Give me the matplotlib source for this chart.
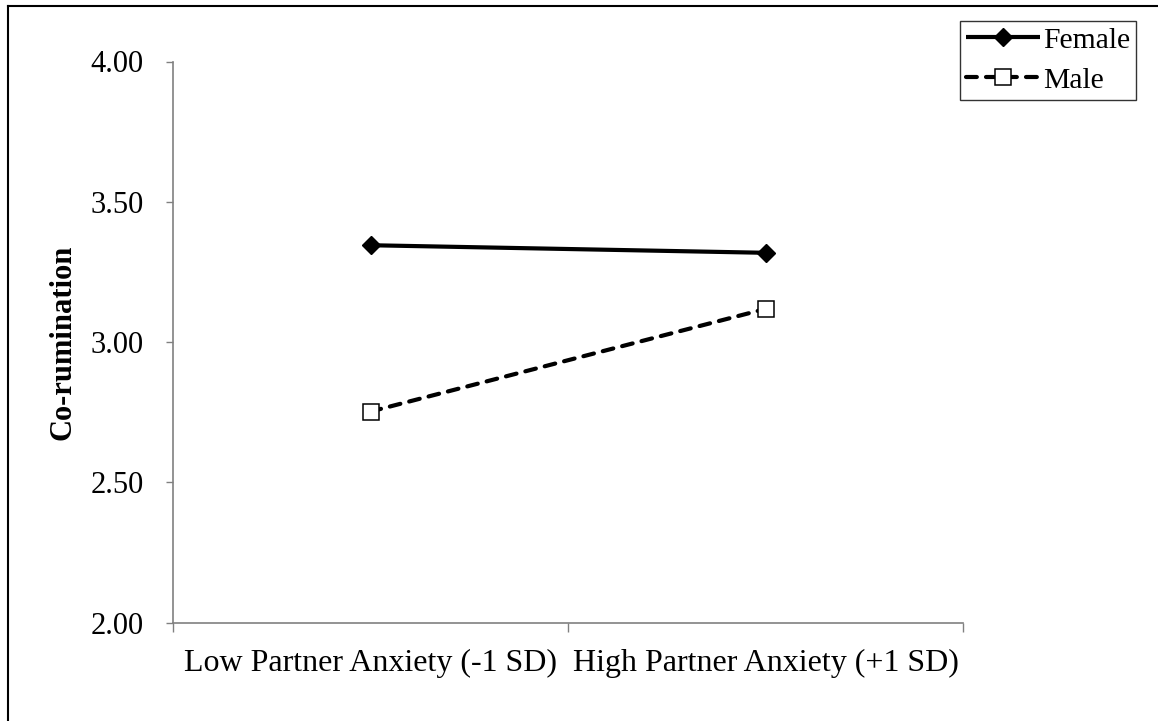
import matplotlib
matplotlib.use("Agg")
import matplotlib.pyplot as plt
from matplotlib.lines import Line2D

categories = ["Low Partner Anxiety (-1 SD)", "High Partner Anxiety (+1 SD)"]
female = [3.345, 3.318]
male = [2.752, 3.118]
yticks = [2.00, 2.50, 3.00, 3.50, 4.00]
ytick_labels = ["2.00", "2.50", "3.00", "3.50", "4.00"]

plt.rcParams['font.family'] = ['Liberation Serif', 'DejaVu Serif']

W, H = 1158, 721
fig = plt.figure(figsize=(W / 100, H / 100), dpi=100)
ax = fig.add_axes([173 / W, (H - 622.5) / H, (963 - 173) / W, (622.5 - 61.5) / H])

xpos = [0.5, 1.5]
ax.plot(xpos, female, color='black', lw=3, marker='D', markersize=9,
        markerfacecolor='black', markeredgecolor='black', label='Female',
        solid_capstyle='butt', zorder=3)
ax.plot(xpos, male, color='black', lw=3, linestyle=(0, (2.6, 2.2)),
        dash_capstyle='round', marker='s', markersize=11.3,
        markerfacecolor='white', markeredgecolor='black', markeredgewidth=1.1,
        label='Male', zorder=3)

ax.set_xlim(0, 2)
ax.set_ylim(2, 4)
ax.set_yticks(yticks)
ax.set_yticklabels(ytick_labels)
ax.set_xticks([0, 1, 2])
ax.set_xticklabels([])
ax.set_xticks(xpos, minor=True)
ax.set_xticklabels(categories, minor=True)
ax.tick_params(axis='x', which='minor', length=0, pad=19, labelsize=23)
ax.tick_params(axis='x', which='major', length=6.5, width=1, color='#808080', direction='out')
ax.tick_params(axis='y', length=5, width=1, color='#808080', direction='out', labelsize=22, pad=16)

for s in ['top', 'right']:
    ax.spines[s].set_visible(False)
for s in ['left', 'bottom']:
    ax.spines[s].set_color('#808080')
    ax.spines[s].set_linewidth(1.2)

ax.set_ylabel("Co-rumination", fontsize=22, fontweight='bold')
ax.yaxis.label.set_va('center')
ax.yaxis.set_label_coords((63 - 173) / (963 - 173), 0.5)

leg = ax.legend(loc='upper left', bbox_to_anchor=(960 / W, 1 - 21 / H),
                bbox_transform=fig.transFigure, fontsize=21.3, frameon=True,
                fancybox=False, edgecolor='black', handlelength=2.5,
                handletextpad=0.1, borderpad=0.2, labelspacing=0.45,
                borderaxespad=0)
leg.get_frame().set_linewidth(1.0)

# outer chart frame (left and top edges visible)
fig.add_artist(Line2D([8 / W, 8 / W], [0, 1 - 6 / H], transform=fig.transFigure,
                      color='black', lw=1.5))
fig.add_artist(Line2D([8 / W, 1], [1 - 6 / H, 1 - 6 / H], transform=fig.transFigure,
                      color='black', lw=1.5))

fig.savefig("out.png", dpi=100)
